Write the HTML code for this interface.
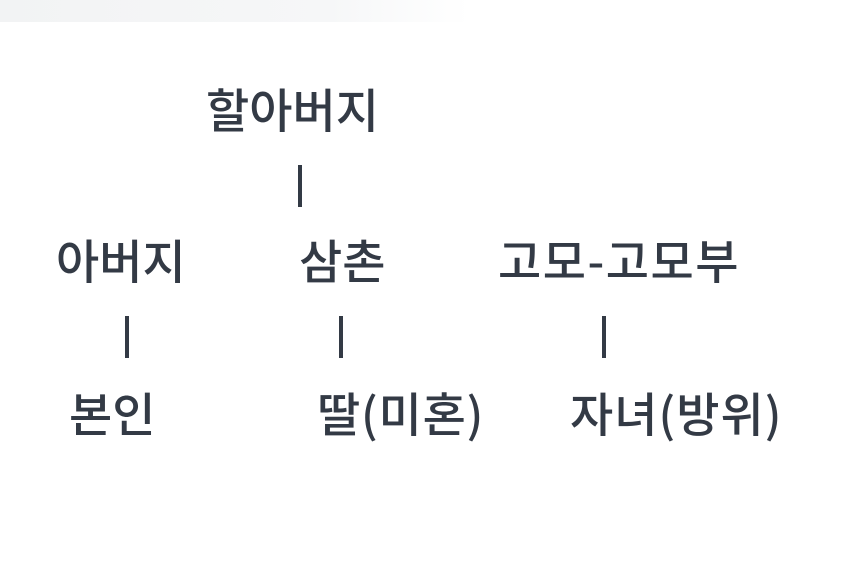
<!DOCTYPE html>
<html><head><meta charset="utf-8"><style>
body{margin:0;width:850px;height:563px;background:#fff;position:relative;overflow:hidden;font-family:"Noto Sans CJK KR","Liberation Sans",sans-serif;color:#333a45}
.t{position:absolute;font-size:47px;line-height:47px;white-space:nowrap;font-weight:500}
.b{position:absolute;width:4px;height:42px;background:#333a45}
.g{position:absolute;left:0;top:0;width:470px;height:22px;background:linear-gradient(90deg,#f2f3f4,#f6f7f8 70%,#fff)}
</style></head><body>
<div class="g"></div>
<div class="t" style="left:206px;top:84px">할아버지</div>
<div class="b" style="left:298px;top:165px"></div>
<div class="t" style="left:56px;top:235px">아버지</div>
<div class="t" style="left:299px;top:235px">삼촌</div>
<div class="t" style="left:498px;top:235px;letter-spacing:1.5px">고모-고모부</div>
<div class="b" style="left:125px;top:316px"></div>
<div class="b" style="left:339px;top:316px"></div>
<div class="b" style="left:602px;top:316px"></div>
<div class="t" style="left:69px;top:388px">본인</div>
<div class="t" style="left:317px;top:388px;letter-spacing:0.8px">딸(미혼)</div>
<div class="t" style="left:570px;top:388px;letter-spacing:1px">자녀(방위)</div>
</body></html>
